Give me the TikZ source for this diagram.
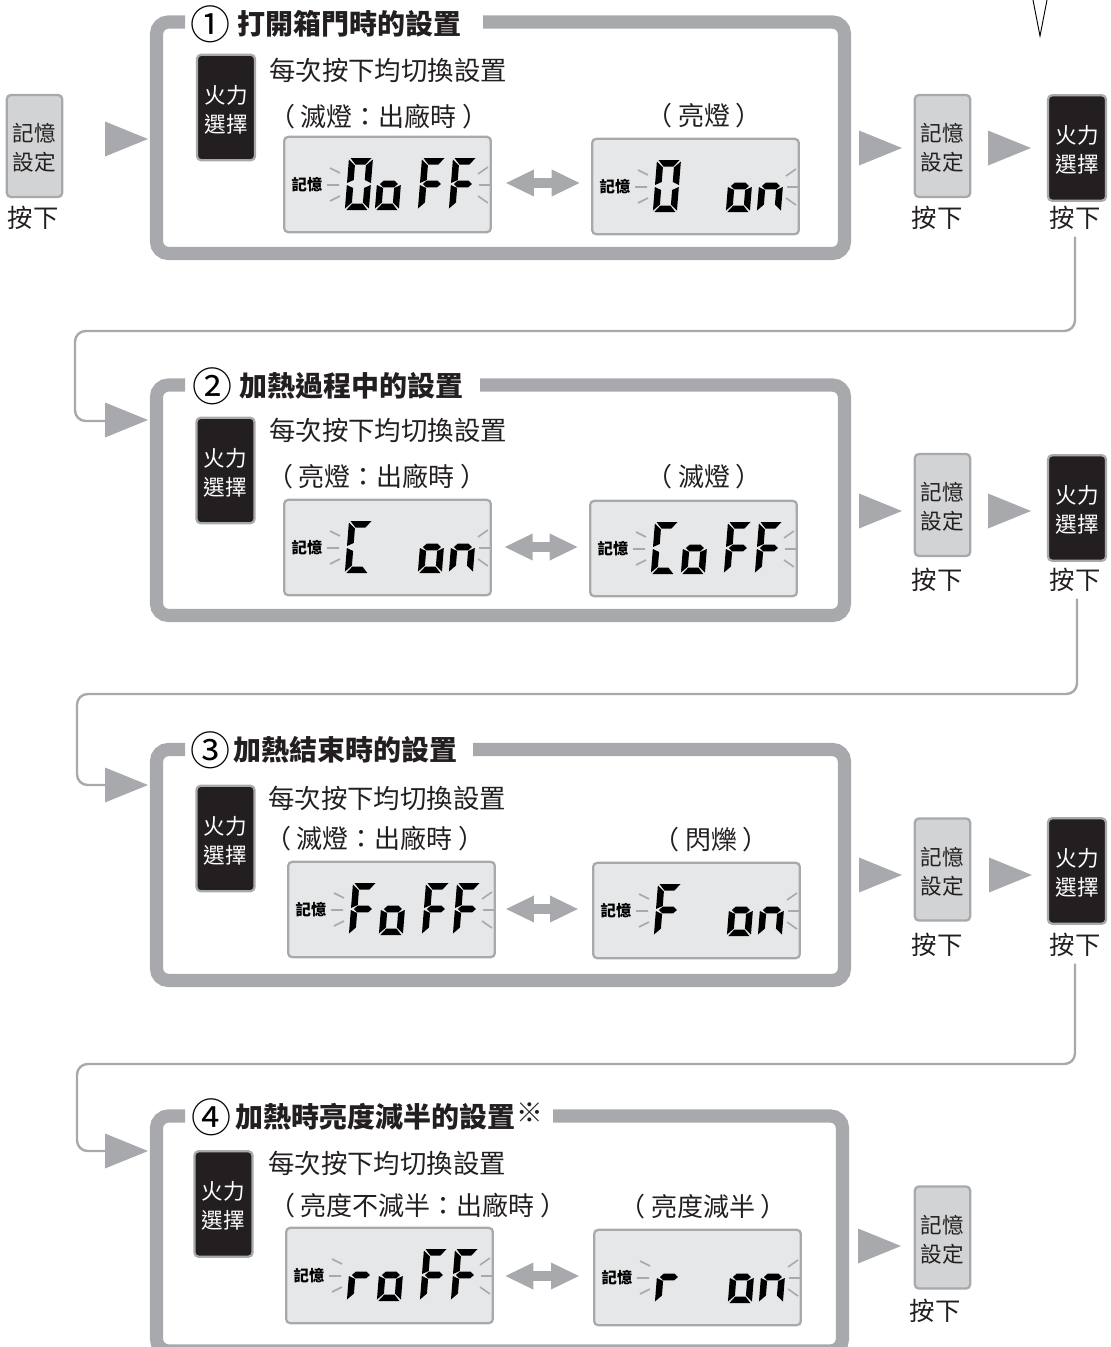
\documentclass[tikz,border=0pt]{standalone}
\usepackage{fontspec}
\setmainfont{Noto Sans CJK TC}
\usetikzlibrary{arrows.meta}
\definecolor{flowgray}{HTML}{A7A9AC}
\definecolor{keygray}{HTML}{D1D3D4}
\definecolor{lcdgray}{HTML}{E6E7E8}
\definecolor{keyblack}{HTML}{231F20}
\tikzset{
  framebox/.style={draw=flowgray,line width=9.9pt,rounded corners=9pt},
  memkey/.style={draw=flowgray,fill=keygray,line width=1.7pt,rounded corners=3pt,minimum width=41.5pt,minimum height=76.5pt,inner sep=0pt,font=\fontsize{16.2}{21.7}\selectfont,text=keyblack},
  firekey/.style={draw=flowgray,fill=keyblack,line width=1.7pt,rounded corners=3pt,minimum width=43.5pt,minimum height=79pt,inner sep=0pt,font=\fontsize{16.2}{21.7}\selectfont,text=white},
  presstext/.style={inner sep=0pt,font=\fontsize{19}{22}\selectfont,text=keyblack},
  hint/.style={inner sep=0pt,anchor=west,font=\fontsize{19.8}{22}\selectfont,text=keyblack},
  state/.style={inner sep=0pt,yshift=-.75pt,font=\fontsize{19.5}{22}\selectfont,text=keyblack},
  titletext/.style={inner sep=0pt,anchor=west,font=\bfseries\fontsize{21}{24}\selectfont,text=keyblack},
  circnum/.style={inner sep=0pt,font=\fontsize{30}{32}\selectfont,text=black},
  lcdbox/.style={draw=flowgray,fill=lcdgray,line width=1.7pt,rounded corners=3pt,minimum width=155pt,minimum height=71.5pt,inner sep=0pt},
  lcdlabel/.style={inner sep=0pt,font=\bfseries\fontsize{11.5}{12}\selectfont,text=black},
  ray/.style={draw=flowgray,line width=1.2pt},
  elbow/.style={draw=flowgray,line width=1.8pt,rounded corners=8pt},
  swap/.style={draw=flowgray,line width=8pt,{Triangle[length=21.5pt,width=18.5pt]}-{Triangle[length=21.5pt,width=18.5pt]}}
}
\newcommand\keytext[2]{\raisebox{-7.8pt}[0pt][0pt]{\begin{tabular}{@{}c@{}}#1\\#2\end{tabular}}}
\newcommand\lpar{（\kern4pt}
\newcommand\rpar{\kern4pt）}
\newcommand\segA{\fill (1.5,0)--(22.5,0)--(17,6.5)--(7,6.5)--cycle;}
\newcommand\segD{\fill (1.5,52)--(22.5,52)--(17,45.5)--(7,45.5)--cycle;}
\newcommand\segF{\fill (0,1.5)--(6.5,7.5)--(6.5,22)--(0,25)--cycle;}
\newcommand\segB{\fill (24,1.5)--(17.5,7.5)--(17.5,22)--(24,25)--cycle;}
\newcommand\segE{\fill (0,27)--(6.5,30)--(6.5,44.5)--(0,50.5)--cycle;}
\newcommand\segC{\fill (24,27)--(17.5,30)--(17.5,44.5)--(24,50.5)--cycle;}
\newcommand\segG{\fill (3,26)--(6.5,22.7)--(17.5,22.7)--(21,26)--(17.5,29.3)--(6.5,29.3)--cycle;}
\expandafter\def\csname glyph0\endcsname{\segA\segB\segC\segD\segE\segF}
\expandafter\def\csname glypho\endcsname{\segC\segD\segE\segG}
\expandafter\def\csname glyphF\endcsname{\segA\segE\segF\segG}
\expandafter\def\csname glyphn\endcsname{\segC\segE\segG}
\expandafter\def\csname glyphC\endcsname{\segA\segD\segE\segF}
\expandafter\def\csname glyphr\endcsname{\segE\segG}
\expandafter\def\csname glyphx\endcsname{}
\newcommand\slotglyph[2]{\begin{scope}[shift={(#1+4,22)},xslant=.08]\csname glyph#2\endcsname\end{scope}}
% name, left x, top y, then four glyphs
\newcommand\lcdpanel[7]{%
  \node[lcdbox] (#1) at (#2+104.5,#3+48.5) {};
  \begin{scope}[shift={(#2,#3)}]
    \node[lcdlabel] (#1lab) at (24,49) {記憶};
    \draw[ray] (44,49)--(56,49) (47,32)--(57,37) (47,65)--(57,60);
    \draw[ray] (196,49)--(208,49) (195,38)--(205,31) (195,60)--(205,67);
    \slotglyph{62}{#4}\slotglyph{92}{#5}\slotglyph{135}{#6}\slotglyph{166}{#7}
  \end{scope}}
\newcommand\flowtri[3]{\coordinate (#1) at (#2,#3);
  \fill[flowgray] (#2,#3-17.5)--(#2+43,#3)--(#2,#3+17.5)--cycle;}
\newcommand\frameP[4]{\draw[framebox] (185,#2)--(156.5,#2)--(156.5,#3)--(#1,#3)--(#1,#2)--(#4,#2);}
\begin{document}
\begin{tikzpicture}[x=.75pt,y=-.75pt]
\useasboundingbox (0,0) rectangle (1111,1347);
\clip (0,0) rectangle (1111,1347);
% top mark
\draw[black,line width=.7pt] (1033,0)--(1040,36)--(1047,0);
% start
\node[memkey] (k0) at (34.5,146) {\keytext{記憶}{設定}};
\node[presstext] (p0) at (33,218) {按下};
\flowtri{t1}{105}{139}
% ---------- panel 1
\frameP{844.5}{22}{253.5}{483}
\node[circnum] (n1) at (210,24) {①};
\node[titletext] (h1) at (237,24) {打開箱門時的設置};
\node[firekey] (f1) at (226,107.5) {\keytext{火力}{選擇}};
\node[hint] (g1) at (269,70) {每次按下均切換設置};
\node[state] (s1a) at (379,116) {\lpar 滅燈：出廠時\rpar};
\node[state] (s1b) at (704,115) {\lpar 亮燈\rpar};
\lcdpanel{d1a}{283}{136}{0}{o}{F}{F}
\lcdpanel{d1b}{591}{138}{0}{x}{o}{n}
\draw[swap,shorten <=10pt,shorten >=8pt] (d1a.east|-0,183)--(d1b.west|-0,183);
\flowtri{t1r}{859}{148}
\node[memkey] (k1) at (942.5,146) {\keytext{記憶}{設定}};
\node[presstext] (p1) at (937,218) {按下};
\flowtri{t1s}{988}{148}
\node[firekey] (q1) at (1077,148) {\keytext{火力}{選擇}};
\node[presstext] (r1) at (1075,218) {按下};
\coordinate (c1) at (75,331);
\draw[elbow,shorten <=5pt] (r1.south) |- (c1) |- (105,421);
% ---------- panel 2
\flowtri{t2}{105}{420}
\frameP{844.5}{385}{615.5}{480}
\node[circnum] (n2) at (212,386) {②};
\node[titletext] (h2) at (239,386) {加熱過程中的設置};
\node[firekey] (f2) at (225.5,470.5) {\keytext{火力}{選擇}};
\node[hint] (g2) at (269,430) {每次按下均切換設置};
\node[state] (s2a) at (377,476) {\lpar 亮燈：出廠時\rpar};
\node[state] (s2b) at (704,476) {\lpar 滅燈\rpar};
\lcdpanel{d2a}{283}{499}{C}{x}{o}{n}
\lcdpanel{d2b}{589}{500}{C}{o}{F}{F}
\draw[swap,shorten <=9pt,shorten >=8pt] (d2a.east|-0,547)--(d2b.west|-0,547);
\flowtri{t2r}{859}{511}
\node[memkey] (k2) at (942.5,505) {\keytext{記憶}{設定}};
\node[presstext] (p2) at (937,580) {按下};
\flowtri{t2s}{988}{511}
\node[firekey] (q2) at (1077,508) {\keytext{火力}{選擇}};
\node[presstext] (r2) at (1075,580) {按下};
\coordinate (c2) at (77,694);
\draw[elbow,shorten <=5pt] ([xshift=1.5pt]r2.south) |- (c2) |- (105,785);
% ---------- panel 3
\flowtri{t3}{105}{785}
\frameP{844.5}{749.5}{980.5}{473}
\node[circnum] (n3) at (210,750) {③};
\node[titletext] (h3) at (233,750) {加熱結束時的設置};
\node[firekey] (f3) at (225.5,838.5) {\keytext{火力}{選擇}};
\node[hint] (g3) at (268,798) {每次按下均切換設置};
\node[state] (s3a) at (375,838) {\lpar 滅燈：出廠時\rpar};
\node[state] (s3b) at (711,839) {\lpar 閃爍\rpar};
\lcdpanel{d3a}{287}{861}{F}{o}{F}{F}
\lcdpanel{d3b}{592}{862}{F}{x}{o}{n}
\draw[swap,shorten <=7pt,shorten >=10pt] (d3a.east|-0,909)--(d3b.west|-0,909);
\flowtri{t3r}{859}{875}
\node[memkey] (k3) at (942.5,869.5) {\keytext{記憶}{設定}};
\node[presstext] (p3) at (937,945) {按下};
\flowtri{t3s}{989}{875}
\node[firekey] (q3) at (1077,871) {\keytext{火力}{選擇}};
\node[presstext] (r3) at (1075,945) {按下};
\coordinate (c3) at (77,1064);
\draw[elbow,shorten <=5pt] (r3.south) |- (c3) |- (105,1151);
% ---------- panel 4
\flowtri{t4}{105}{1151}
\frameP{842.5}{1116}{1351}{553}
\node[circnum] (n4) at (211,1117) {④};
\node[titletext] (h4) at (235,1117) {加熱時亮度減半的設置};
\node[inner sep=0pt,font=\fontsize{20}{22}\selectfont,text=keyblack] (m4) at (530,1113) {※};
\node[firekey] (f4) at (223.5,1204) {\keytext{火力}{選擇}};
\node[hint] (g4) at (268,1163) {每次按下均切換設置};
\node[state] (s4a) at (418,1205) {\lpar 亮度不減半：出廠時\rpar};
\node[state] (s4b) at (703,1206) {\lpar 亮度減半\rpar};
\lcdpanel{d4a}{285}{1227}{r}{o}{F}{F}
\lcdpanel{d4b}{593}{1229}{r}{x}{o}{n}
\draw[swap,shorten <=8pt,shorten >=10pt] (d4a.east|-0,1276)--(d4b.west|-0,1276);
\flowtri{t4r}{858}{1246}
\node[memkey] (k4) at (942.5,1237.5) {\keytext{記憶}{設定}};
\node[presstext] (p4) at (935,1311) {按下};
\end{tikzpicture}
\end{document}
